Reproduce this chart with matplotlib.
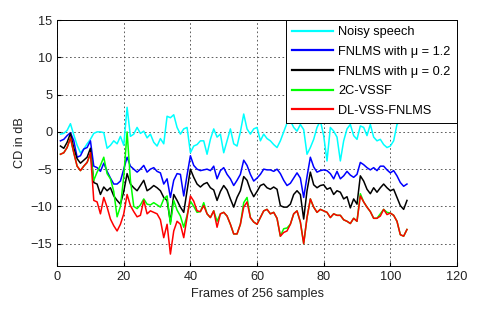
import matplotlib
matplotlib.use("Agg")
import matplotlib.pyplot as plt

plt.rcParams['font.family'] = ['Liberation Sans', 'DejaVu Sans']

frames = list(range(1, 106))

noisy = [-0.3, -0.2, 0.2, 1.1, -0.4, -1.8, -2.8, -2.3, -1.6, -1.0,
         -0.2, 0.0, 0.0, -0.1, -2.2, -1.8, -1.2, -1.6, -0.6, -1.8,
         3.3, -0.6, -0.3, 0.6, -0.2, 0.1, -0.8, -0.3, -1.4, -1.9,
         -0.9, -1.6, 2.1, 1.9, 2.3, 0.6, -0.3, 0.4, 0.6, -2.8,
         -1.9, -1.7, -1.2, -1.2, -3.0, -1.0, 0.4, -0.7, -0.3, -2.8,
         -1.2, 0.4, -1.6, -1.9, 0.0, 2.4, 0.4, -0.3, 0.4, 0.6,
         -1.2, -0.3, -0.9, -1.2, -1.7, -2.1, -1.2, 0.0, 1.2, 1.5,
         0.6, 0.1, 1.0, 0.3, -3.0, -2.1, -1.0, 0.6, 1.5, -0.5,
         -3.9, 0.6, 0.1, -0.7, -3.9, -1.2, 0.4, 1.0, -0.5, -1.0,
         0.8, 0.6, -0.5, 1.0, -0.7, -1.2, -1.0, -1.7, -2.1, -1.9,
         -1.2, 1.0, 1.5, 3.0, 3.5]

fnlms_12 = [-1.2, -1.0, -0.5, -0.1, -1.2, -3.4, -3.2, -2.3, -2.1, -1.2,
            -4.6, -4.8, -5.3, -4.2, -5.3, -6.2, -7.0, -7.0, -6.6, -5.0,
            -3.4, -4.6, -5.0, -5.4, -5.0, -4.5, -5.4, -5.0, -4.8, -5.3,
            -5.5, -7.0, -6.3, -8.8, -6.5, -5.6, -5.7, -8.6, -5.8, -3.2,
            -4.5, -5.0, -5.2, -5.1, -5.0, -5.2, -4.6, -6.3, -5.2, -4.8,
            -5.7, -6.3, -7.2, -6.5, -5.7, -3.8, -4.5, -5.7, -6.6, -6.2,
            -5.7, -5.0, -5.1, -5.1, -5.3, -5.0, -5.6, -6.5, -7.2, -6.9,
            -6.2, -5.5, -6.2, -8.8, -6.0, -3.4, -4.7, -5.4, -5.2, -5.1,
            -5.2, -5.6, -6.3, -5.3, -6.3, -5.9, -5.3, -5.8, -6.1, -5.7,
            -4.1, -4.4, -4.8, -5.1, -4.8, -5.2, -4.6, -4.6, -5.1, -5.5,
            -5.2, -5.9, -6.8, -7.3, -7.0]

fnlms_02 = [-1.9, -2.2, -1.4, -0.2, -2.2, -3.6, -4.2, -3.8, -3.4, -2.2,
            -6.8, -7.0, -8.4, -7.4, -7.9, -7.5, -8.6, -9.2, -9.7, -8.0,
            -5.6, -7.0, -7.5, -7.9, -7.2, -6.5, -7.9, -7.6, -7.2, -7.5,
            -7.9, -8.8, -9.2, -12.1, -8.4, -9.2, -10.1, -10.8, -7.9, -5.0,
            -6.1, -7.0, -7.4, -7.0, -6.8, -7.5, -7.8, -9.2, -8.0, -7.2,
            -7.8, -9.0, -10.1, -8.8, -7.9, -6.0, -6.5, -7.8, -8.7, -8.0,
            -7.2, -7.0, -7.5, -7.7, -7.4, -7.7, -9.9, -10.1, -10.1, -9.7,
            -8.4, -7.9, -8.4, -11.7, -7.9, -5.4, -7.1, -7.5, -7.2, -7.1,
            -7.7, -7.5, -8.4, -7.9, -8.1, -9.0, -8.7, -10.2, -9.0, -9.7,
            -5.9, -6.6, -7.7, -8.3, -7.5, -8.1, -7.5, -7.0, -7.5, -7.9,
            -7.7, -8.8, -9.9, -10.4, -9.2]

vssf_2c = [-3.0, -2.8, -2.1, -0.8, -2.8, -4.6, -5.2, -4.6, -4.1, -3.0,
           -6.5, -5.4, -4.5, -3.4, -5.6, -6.3, -8.0, -11.4, -10.0, -6.0,
           0.0, -6.5, -10.0, -10.3, -9.8, -9.0, -9.7, -9.8, -9.5, -9.8,
           -10.1, -9.0, -8.6, -12.4, -9.2, -10.5, -11.3, -12.8, -11.2, -9.3,
           -10.0, -10.8, -10.7, -9.5, -11.0, -11.5, -10.6, -12.0, -11.0, -10.8,
           -11.3, -12.4, -13.7, -13.7, -12.4, -9.5, -8.8, -11.5, -12.1, -12.4,
           -11.5, -10.6, -10.4, -11.0, -10.8, -11.6, -14.0, -13.0, -12.9, -12.4,
           -11.0, -10.6, -12.1, -15.0, -11.5, -9.0, -10.1, -10.8, -10.4, -10.6,
           -10.8, -11.5, -11.0, -11.2, -11.2, -11.8, -12.0, -12.3, -11.6, -12.0,
           -8.3, -9.4, -10.1, -10.7, -11.6, -11.6, -11.0, -10.4, -10.8, -10.9,
           -11.2, -12.0, -13.8, -14.0, -13.1]

dl_vss = [-3.0, -2.8, -2.1, -0.8, -2.8, -4.6, -5.2, -4.6, -4.1, -2.8,
          -9.2, -9.4, -11.0, -8.8, -10.1, -11.7, -12.6, -13.3, -12.4, -11.0,
          -8.4, -9.9, -10.7, -11.4, -11.2, -9.2, -11.0, -10.6, -10.8, -11.0,
          -11.8, -14.2, -12.4, -16.4, -13.3, -12.0, -12.4, -14.2, -11.5, -8.6,
          -9.3, -10.6, -10.7, -9.9, -11.0, -11.5, -10.6, -12.8, -11.0, -10.8,
          -11.3, -12.4, -13.7, -13.7, -12.4, -10.1, -9.4, -11.5, -12.1, -12.4,
          -11.5, -10.6, -10.4, -11.0, -10.8, -11.6, -14.0, -13.5, -13.3, -12.4,
          -11.0, -10.6, -12.1, -15.0, -11.5, -9.0, -10.1, -10.8, -10.4, -10.6,
          -10.8, -11.5, -11.0, -11.2, -11.2, -11.8, -12.0, -12.3, -11.6, -12.0,
          -8.6, -9.4, -10.1, -10.7, -11.6, -11.6, -11.3, -10.4, -11.1, -10.9,
          -11.2, -12.0, -13.8, -14.0, -13.1]

series = [
    ("Noisy speech", noisy, "#00ffff"),
    ("FNLMS with \u03bc = 1.2", fnlms_12, "#0000ff"),
    ("FNLMS with \u03bc = 0.2", fnlms_02, "#000000"),
    ("2C-VSSF", vssf_2c, "#00ff00"),
    ("DL-VSS-FNLMS", dl_vss, "#ff0000"),
]

fs = 9.2

fig = plt.figure(figsize=(4.8, 3.1), dpi=100)
ax = fig.add_axes([0.119, 0.142, 0.833, 0.793])

for label, vals, col in series:
    ax.plot(frames, vals, color=col, linewidth=1.1, label=label)

ax.set_xlim(0, 120)
ax.set_ylim(-18, 15)
ax.set_xticks(range(0, 121, 20))
ax.set_yticks(range(-15, 16, 5))
ax.tick_params(direction='in', labelsize=fs, length=3, color='black',
               labelcolor='#222222')
ax.grid(True, linestyle=(0, (2, 3)), color='#444444', linewidth=0.6)
for sp in ax.spines.values():
    sp.set_linewidth(0.7)

ax.set_xlabel("Frames of 256 samples", fontsize=fs, labelpad=4,
              color='#222222')
ax.set_ylabel("CD in dB", fontsize=fs, labelpad=3, color='#222222')

leg = ax.legend(loc='upper right', fontsize=fs, handlelength=3.2,
                handletextpad=0.4, labelspacing=0.6, borderaxespad=0,
                fancybox=False, framealpha=1, edgecolor='black',
                borderpad=0.48)
leg.get_frame().set_linewidth(0.7)
for h in leg.get_lines():
    h.set_linewidth(1.6)

fig.savefig("out.png", dpi=100)
